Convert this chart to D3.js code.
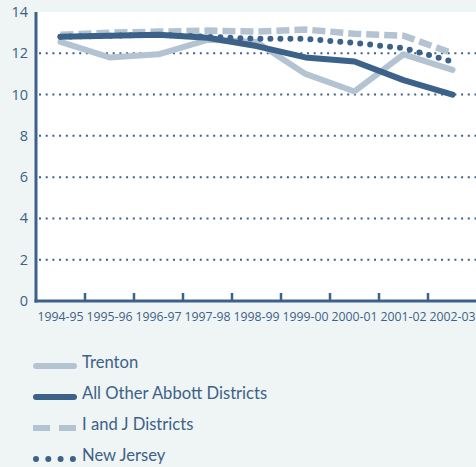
<!DOCTYPE html>
<html><head><meta charset="utf-8">
<script src="https://cdn.jsdelivr.net/npm/d3@7"></script>
<style>html,body{margin:0;padding:0;background:#eff5f5;}svg{display:block;}</style>
</head><body>
<svg id="c" width="476" height="467"></svg>
<script>
const categories = ["1994-95","1995-96","1996-97","1997-98","1998-99","1999-00","2000-01","2001-02","2002-03"];
const trenton   = [12.55, 11.8, 11.95, 12.65, 12.55, 11.0, 10.15, 11.95, 11.2];
const abbott    = [12.8, 12.85, 12.9, 12.75, 12.35, 11.8, 11.6, 10.7, 10.0];
const iandj     = [12.9, 13.0, 13.05, 13.1, 13.05, 13.15, 12.95, 12.85, 12.0];
const newJersey = [12.8, 12.85, 12.9, 12.8, 12.7, 12.7, 12.5, 12.25, 11.6];
const yTicks = [0,2,4,6,8,10,12,14];
const seriesNames = ["Trenton","All Other Abbott Districts","I and J Districts","New Jersey"];

const dark = "#3c6289", light = "#b4c3d2", textCol = "#3d6187";
const svg = d3.select("#c");
const L = 36, R = 477, T = 12, B = 301;
const x = d3.scaleBand().domain(categories).range([L, R]);
const y = d3.scaleLinear().domain([0, 14]).range([B, T]);

svg.append("rect").attr("x", L).attr("y", T).attr("width", 476 - L).attr("height", B - T).attr("fill", "#fff");

// gridlines
svg.append("g").selectAll("line").data(yTicks.filter(d => d > 0 && d < 14)).join("line")
  .attr("x1", L + 3).attr("x2", 476).attr("y1", d => y(d)).attr("y2", d => y(d))
  .attr("stroke", dark).attr("stroke-width", 2).attr("stroke-dasharray", "2,4.7");

// y labels
svg.append("g").selectAll("text").data(yTicks).join("text")
  .attr("x", 28).attr("y", d => y(d) + 5).attr("text-anchor", "end")
  .attr("font-family", "Open Sans").attr("font-size", 14.5).attr("fill", textCol).text(d => d);

// x labels
svg.append("g").selectAll("text").data(categories).join("text")
  .attr("x", d => x(d) + x.bandwidth() / 2).attr("y", 321).attr("text-anchor", "middle")
  .attr("font-family", "Open Sans").attr("font-size", 12.3).attr("fill", textCol).text(d => d);

const line = d3.line().x((d, i) => x(categories[i]) + x.bandwidth() / 2).y(d => y(d)).curve(d3.curveLinear);
const styles = [
  {data: trenton, color: light, w: 6, dash: null, cap: "round"},
  {data: abbott, color: dark, w: 6, dash: null, cap: "round"},
  {data: iandj, color: light, w: 6.5, dash: "13,5", cap: "butt"},
  {data: newJersey, color: dark, w: 6, dash: "0,10", cap: "round"}
];
// draw order: I and J, Trenton, Abbott, NJ
[2, 0, 1, 3].forEach(k => {
  const s = styles[k];
  svg.append("path").datum(s.data).attr("d", line).attr("fill", "none")
    .attr("stroke", s.color).attr("stroke-width", s.w).attr("stroke-linecap", s.cap)
    .attr("stroke-linejoin", "round").attr("stroke-dasharray", s.dash);
});

// axes
const ax = svg.append("g");
ax.append("line").attr("x1", L).attr("x2", L).attr("y1", T).attr("y2", B + 1.5).attr("stroke", dark).attr("stroke-width", 3);
ax.append("line").attr("x1", L - 1.5).attr("x2", 476).attr("y1", B).attr("y2", B).attr("stroke", dark).attr("stroke-width", 3);
ax.selectAll(".tk").data(categories.slice(1)).join("line")
  .attr("x1", d => x(d)).attr("x2", d => x(d)).attr("y1", B - 8).attr("y2", B).attr("stroke", dark).attr("stroke-width", 2.5);

// legend
const leg = svg.append("g");
seriesNames.forEach((name, i) => {
  const cy = 366 + i * 31;
  const s = styles[i];
  const g = leg.append("g");
  if (i === 3) {
    g.append("line").attr("x1", 36).attr("x2", 73).attr("y1", cy).attr("y2", cy)
      .attr("stroke", s.color).attr("stroke-width", 6).attr("stroke-linecap", "round").attr("stroke-dasharray", "0,12.3");
  } else if (i === 2) {
    g.append("line").attr("x1", 33).attr("x2", 77).attr("y1", cy).attr("y2", cy)
      .attr("stroke", s.color).attr("stroke-width", 6).attr("stroke-dasharray", "17,9");
  } else {
    g.append("line").attr("x1", 36).attr("x2", 74).attr("y1", cy).attr("y2", cy)
      .attr("stroke", s.color).attr("stroke-width", 6).attr("stroke-linecap", "round");
  }
  g.append("text").attr("x", 82).attr("y", cy + 2).attr("font-family", "Lato").attr("font-size", 16.6)
    .attr("fill", textCol).text(name);
});
</script>
</body></html>
